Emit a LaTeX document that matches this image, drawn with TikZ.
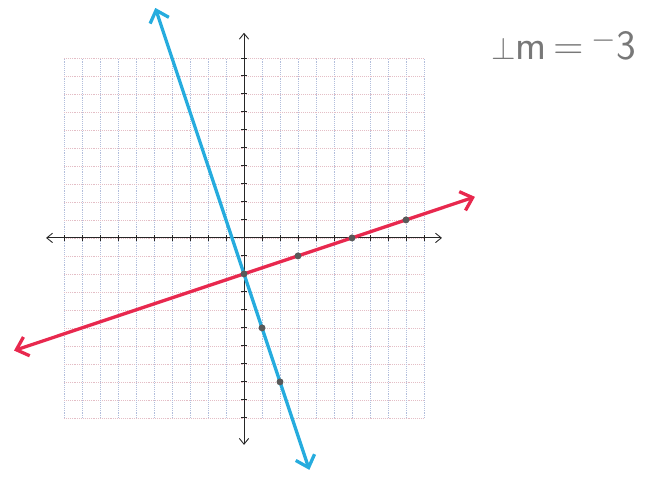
\documentclass[tikz,border=0pt]{standalone}
\usepackage{amsmath,amssymb}
\usepackage{tikz}
\usetikzlibrary{arrows.meta,calc}
\usepackage{xcolor}
\definecolor{gridblue}{RGB}{178,190,220}
\definecolor{gridred}{RGB}{228,190,198}
\definecolor{penred}{RGB}{232,40,78}
\definecolor{penblue}{RGB}{38,172,222}
\definecolor{pencil}{RGB}{120,120,120}

\begin{document}
\begin{tikzpicture}[x=0.5cm,y=0.5cm,
    gridline/.style={gridblue,densely dotted,line width=0.5pt},
    axis/.style={black!85,line width=0.7pt,{Straight Barb[length=1.6mm,width=2.6mm]}-{Straight Barb[length=1.6mm,width=2.6mm]}},
    penline/.style={line width=2.6pt,line cap=round,{Straight Barb[length=3mm,width=5.5mm,line width=2.6pt]}-{Straight Barb[length=3mm,width=5.5mm,line width=2.6pt]}},
    plotdot/.style={circle,fill=black!65,inner sep=0pt,minimum size=5.5pt}]
  \useasboundingbox (-13.56,-13.44) rectangle (23.06,13.22);
  % graph paper
  \foreach \k in {-10,...,10}{
    \draw[gridline] (\k,-10) -- (\k,10);
    \draw[gridline,gridred] (-10,\k) -- (10,\k);
  }
  % axes
  \coordinate (xl) at (-11,0);
  \coordinate (xr) at (11,0);
  \coordinate (yb) at (0,-11.5);
  \coordinate (yt) at (0,11.4);
  \draw[axis] (xl) -- (xr);
  \draw[axis] (yb) -- (yt);
  \foreach \k in {-10,...,10}{
    \draw[black!85,line width=0.7pt] (\k,-0.18) -- (\k,0.18);
    \draw[black!85,line width=0.7pt] (-0.18,\k) -- (0.18,\k);
  }
  % red line, m = 1/3
  \coordinate (redL) at (-12.78,-6.26);
  \coordinate (redR) at (12.83,2.28);
  \draw[penline,penred] (redL) -- (redR);
  % blue line, m = -3
  \coordinate (blueT) at (-4.93,12.78);
  \coordinate (blueB) at (3.63,-12.89);
  \draw[penline,penblue] (blueT) -- (blueB);
  % plotted points
  \foreach \px/\py/\nm in {0/-2/p0,3/-1/p1,6/0/p2,9/1/p3,1/-5/q1,2/-8/q2}{
    \node[plotdot] (\nm) at (\px,\py) {};
  }
  \node[pencil,font=\sffamily\fontsize{33}{33}\selectfont,anchor=center] (slope) at (17.75,10.7) {$\perp$m\,=\,$^{-}$3};
\end{tikzpicture}
\end{document}
